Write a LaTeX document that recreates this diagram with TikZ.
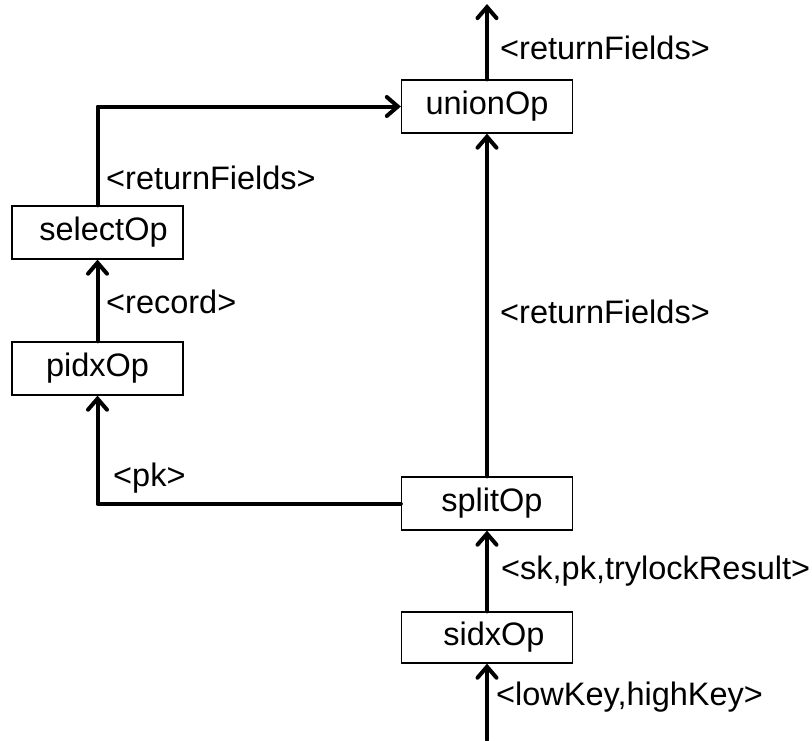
\documentclass[tikz,border=0pt]{standalone}
\usepackage{fontspec}
\setmainfont{Liberation Sans}
\usetikzlibrary{arrows.meta}
\begin{document}
\begin{tikzpicture}[x=1pt,y=-1pt,
  opbox/.style={draw, line width=1.3pt, minimum width=171pt, minimum height=53pt,
    inner sep=0pt, font=\fontsize{32.5}{38}\selectfont},
  flow/.style={line width=4pt, line cap=round, line join=round,
    -{Straight Barb[length=11pt,width=19pt,line cap=round]}},
  lbl/.style={anchor=base west, inner sep=0pt, font=\fontsize{32.5}{38}\selectfont}]
\useasboundingbox (0,0) rectangle (812,740);
% operator boxes
\node[opbox] (union)  at (487,106.5) {unionOp};
\node[opbox] (select) at (97.5,232.5) {\hspace*{12pt}selectOp};
\node[opbox] (pidx)   at (97.5,368.5) {pidxOp};
\node[opbox] (split)  at (487,503.5) {\hspace*{10pt}splitOp};
\node[opbox, minimum height=51pt] (sidx) at (487,637.5) {\hspace*{14pt}sidxOp};
% free ends of the open connectors
\coordinate (in)  at (487,740);
\coordinate (out) at (487,4);
% connectors
\draw[flow] (in) -- (sidx.south);
\draw[flow] (sidx.north) -- (split.south);
\draw[flow] (split.north) -- (union.south);
\draw[flow] (union.north) -- (out);
\draw[flow] (split.west) -| (pidx.south);
\draw[flow] (pidx.north) -- (select.south);
\draw[flow] (select.north) |- (union.west);
% data labels
\node[lbl] (l1) at (500,59) {<returnFields>};
\node[lbl] (l2) at (106,189) {<returnFields>};
\node[lbl] (l3) at (106,313) {<record>};
\node[lbl] (l4) at (500,323) {<returnFields>};
\node[lbl] (l5) at (113,486) {<pk>};
\node[lbl] (l6) at (501,579) {<sk,pk,trylockResult>};
\node[lbl] (l7) at (496,705) {<lowKey,highKey>};
\end{tikzpicture}
\end{document}
